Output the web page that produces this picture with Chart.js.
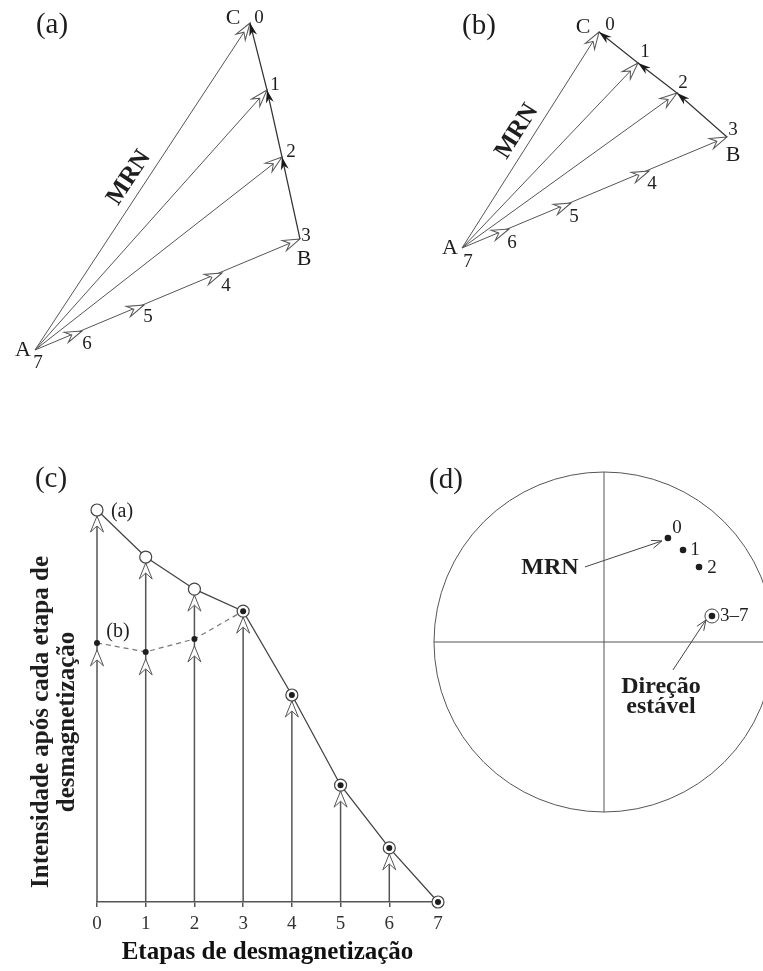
<!DOCTYPE html>
<html lang="pt-BR">

<head>
  <meta charset="UTF-8">
  <title>Desmagnetização progressiva</title>
  <script src="https://cdn.jsdelivr.net/npm/chart.js"></script>
  <style>
    body {
      margin: 0;
      background: #fff;
      width: 763px;
      height: 971px;
      position: relative;
      overflow: hidden;
    }

    canvas {
      position: absolute;
    }
  </style>
</head>

<body>
  <!-- (a) e (b): vetores -->
  <canvas id="graficoA" width="380" height="390" style="left:0;top:0"></canvas>
  <canvas id="graficoB" width="373" height="300" style="left:390px;top:0"></canvas>
  <!-- (c) intensidade, (d) estereograma -->
  <canvas id="graficoC" width="470" height="511" style="left:0;top:460px"></canvas>
  <canvas id="graficoD" width="363" height="400" style="left:400px;top:460px"></canvas>

  <script>
    // etapas de desmagnetização (a etapa 7 é a origem A)
    const etapas = [0, 1, 2, 3, 4, 5, 6, 7];
    const rotulosEtapas = ['0', '1', '2', '3', '4', '5', '6', '7'];

    // componentes dos vetores de magnetização, em unidades arbitrárias
    const vetorAx = [21.5, 23.2, 24.7, 26.5, 18.7, 10.9, 4.7, 0];
    const vetorAy = [32.7, 26.0, 19.3, 11.1, 7.7, 4.5, 1.9, 0];
    const vetorBx = [13.7, 17.6, 21.5, 26.5, 18.7, 10.9, 4.7, 0];
    const vetorBy = [21.6, 18.5, 15.5, 11.1, 7.7, 4.5, 1.9, 0];

    // (c) intensidade após cada etapa (0 a 100)
    const intensidadeA = [100, 88, 79.8, 74.2, 52.8, 29.8, 13.8, 0];
    const intensidadeB = [66.1, 63.8, 67.1, 74.2];
    const inicioEstavel = 3;
    const tituloY = ['Intensidade após cada etapa de', 'desmagnetização'];

    // (d) direções projetadas (círculo de raio 1)
    const direcaoX = [0.376, 0.465, 0.559, 0.635];
    const direcaoY = [0.612, 0.541, 0.441, 0.153];
    const rotulosDirecao = ['0', '1', '2', '3–7'];

    const serif = '"Liberation Serif", "DejaVu Serif", serif';

    function texto(ctx, s, x, y, fonte, alinh) {
      ctx.save();
      ctx.font = fonte;
      ctx.fillStyle = '#1e1e1e';
      ctx.textAlign = alinh || 'center';
      ctx.textBaseline = 'middle';
      ctx.fillText(s, x, y);
      ctx.restore();
    }

    // ponta de seta com entalhe, ponta em (x, y)
    function desenharSeta(ctx, x, y, ang, tam, aberta) {
      ctx.save();
      ctx.translate(x, y);
      ctx.rotate(ang);
      ctx.beginPath();
      ctx.moveTo(0, 0);
      ctx.lineTo(-tam.comp, -tam.larg);
      ctx.lineTo(-tam.comp + tam.entalhe, 0);
      ctx.lineTo(-tam.comp, tam.larg);
      ctx.closePath();
      if (aberta) {
        ctx.fillStyle = '#fff';
        ctx.fill();
        ctx.strokeStyle = '#555';
        ctx.lineWidth = 1;
        ctx.stroke();
      } else {
        ctx.fillStyle = '#1a1a1a';
        ctx.fill();
      }
      ctx.restore();
    }

    // seta de anotação (ponta em V aberta)
    function setaSimples(ctx, x0, y0, x1, y1) {
      const ang = Math.atan2(y1 - y0, x1 - x0);
      ctx.save();
      ctx.strokeStyle = '#444';
      ctx.lineWidth = 1;
      ctx.beginPath();
      ctx.moveTo(x0, y0);
      ctx.lineTo(x1, y1);
      ctx.moveTo(x1 - 11 * Math.cos(ang - 0.38), y1 - 11 * Math.sin(ang - 0.38));
      ctx.lineTo(x1, y1);
      ctx.lineTo(x1 - 11 * Math.cos(ang + 0.38), y1 - 11 * Math.sin(ang + 0.38));
      ctx.stroke();
      ctx.restore();
    }

    const semEixos = {
      responsive: false,
      devicePixelRatio: 1,
      animation: false,
      events: [],
      layout: { padding: 0, autoPadding: false },
      plugins: { legend: { display: false }, tooltip: { enabled: false } }
    };

    const setaAberta = { comp: 17, larg: 5.5, entalhe: 6 };
    const setaCheia = { comp: 13, larg: 4, entalhe: 4 };

    // (a) e (b)
    function graficoVetores(id, vx, vy, cfg) {
      const canvas = document.getElementById(id);
      const escala = 10;
      const pontos = etapas.map((e, i) => ({ x: vx[i], y: vy[i] }));
      const origem = pontos[7];
      const datasets = [0, 1, 2, 3].map(i => ({
        data: [origem, pontos[i]],
        showLine: true, borderColor: '#555', borderWidth: 1, pointRadius: 0
      }));
      datasets.push({
        data: [pontos[3], pontos[2], pontos[1], pontos[0]],
        showLine: true, borderColor: '#333', borderWidth: 1.2, pointRadius: 0
      });

      new Chart(canvas, {
        type: 'scatter',
        data: { datasets: datasets },
        options: Object.assign({}, semEixos, {
          scales: {
            x: { display: false, min: -cfg.ax / escala, max: (canvas.width - cfg.ax) / escala },
            y: { display: false, min: -(canvas.height - cfg.ay) / escala, max: cfg.ay / escala }
          }
        }),
        plugins: [{
          id: 'vetores',
          afterDatasetsDraw(chart) {
            const ctx = chart.ctx, sx = chart.scales.x, sy = chart.scales.y;
            const px = i => sx.getPixelForValue(vx[i]);
            const py = i => sy.getPixelForValue(vy[i]);
            const ax = px(7), ay = py(7);

            for (let i = 0; i < 7; i++) {
              desenharSeta(ctx, px(i), py(i), Math.atan2(py(i) - ay, px(i) - ax), setaAberta, true);
            }
            for (let i = 2; i >= 0; i--) {
              desenharSeta(ctx, px(i), py(i), Math.atan2(py(i) - py(i + 1), px(i) - px(i + 1)), setaCheia, false);
            }

            etapas.forEach((e, i) => {
              const d = cfg.digitos[i];
              texto(ctx, rotulosEtapas[i], px(i) + d[0], py(i) + d[1], '19px ' + serif);
            });
            texto(ctx, 'C', px(0) + cfg.letraC[0], py(0) + cfg.letraC[1], '22px ' + serif);
            texto(ctx, 'B', px(3) + cfg.letraB[0], py(3) + cfg.letraB[1], '22px ' + serif);
            texto(ctx, 'A', ax + cfg.letraA[0], ay + cfg.letraA[1], '22px ' + serif);

            // MRN ao longo do vetor inicial
            const ang = Math.atan2(py(0) - ay, px(0) - ax);
            const mx = (ax + px(0)) / 2 + 16 * Math.sin(ang);
            const my = (ay + py(0)) / 2 - 16 * Math.cos(ang);
            ctx.save();
            ctx.translate(mx, my);
            ctx.rotate(ang);
            texto(ctx, 'MRN', 0, 0, 'bold 25px ' + serif);
            ctx.restore();

            texto(ctx, cfg.painel, cfg.painelPos[0], cfg.painelPos[1], '29px ' + serif);
          }
        }]
      });
    }

    graficoVetores('graficoA', vetorAx, vetorAy, {
      ax: 35, ay: 350,
      digitos: [[9, -5], [8, -5], [9, -5], [6, -3], [4, 13], [4, 12], [5, 13], [3, 13]],
      letraC: [-17, -5], letraB: [4, 20], letraA: [-12, 0],
      painel: '(a)', painelPos: [52, 25]
    });

    graficoVetores('graficoB', vetorBx, vetorBy, {
      ax: 72, ay: 248,
      digitos: [[11, -7], [7, -11], [6, -10], [6, -7], [3, 13], [3, 14], [3, 14], [6, 14]],
      letraC: [-16, -5], letraB: [6, 18], letraA: [-12, 0],
      painel: '(b)', painelPos: [89, 26]
    });

    // (c) intensidade
    new Chart(document.getElementById('graficoC'), {
      type: 'scatter',
      data: {
        datasets: [
          {
            data: etapas.filter(e => e >= inicioEstavel).map(e => ({ x: e, y: intensidadeA[e] })),
            pointRadius: 3, pointBackgroundColor: '#1e1e1e', pointBorderColor: '#1e1e1e', pointBorderWidth: 0,
            showLine: false, clip: false
          },
          {
            data: etapas.map((e, i) => ({ x: e, y: intensidadeA[i] })),
            showLine: true, borderColor: '#444', borderWidth: 1.3,
            pointRadius: 6, pointBackgroundColor: '#fff', pointBorderColor: '#444', pointBorderWidth: 1.2,
            clip: false
          },
          {
            data: intensidadeB.map((v, i) => ({ x: etapas[i], y: v })),
            showLine: true, borderColor: '#777', borderWidth: 1.2, borderDash: [5, 4],
            pointRadius: 3, pointBackgroundColor: '#1e1e1e', pointBorderColor: '#1e1e1e', pointBorderWidth: 0,
            clip: false
          }
        ]
      },
      options: Object.assign({}, semEixos, {
        layout: { padding: { left: 97, right: 32, top: 50, bottom: 0 }, autoPadding: false },
        scales: {
          x: {
            min: 0, max: 7,
            afterFit: s => { s.height = 69; },
            border: { display: true, color: '#555', width: 1.5 },
            grid: { display: true, drawOnChartArea: false, drawTicks: true, tickLength: 5, color: '#555', lineWidth: 1.5 },
            ticks: { stepSize: 1, padding: 6, color: '#333', font: { family: serif, size: 19 } },
            title: {
              display: true, text: 'Etapas de desmagnetização', color: '#111',
              padding: { top: 0, bottom: 3 },
              font: { family: serif, size: 25, weight: 'bold', lineHeight: 1.2 }
            }
          },
          y: { display: false, min: 0, max: 100 }
        }
      }),
      plugins: [{
        id: 'hastes',
        beforeDatasetsDraw(chart) {
          const ctx = chart.ctx, sx = chart.scales.x, sy = chart.scales.y;
          const base = sy.getPixelForValue(0);
          const hastes = { comp: 16, larg: 6.5, entalhe: 6 };
          ctx.save();
          ctx.strokeStyle = '#555';
          ctx.lineWidth = 1.5;
          etapas.forEach((e, i) => {
            if (intensidadeA[i] <= 0) return;
            const x = sx.getPixelForValue(e);
            ctx.beginPath();
            ctx.moveTo(x, base);
            ctx.lineTo(x, sy.getPixelForValue(intensidadeA[i]));
            ctx.stroke();
          });
          ctx.restore();
          etapas.forEach((e, i) => {
            if (intensidadeA[i] <= 0) return;
            desenharSeta(ctx, sx.getPixelForValue(e), sy.getPixelForValue(intensidadeA[i]) + 6, -Math.PI / 2, hastes, true);
          });
          intensidadeB.forEach((v, i) => {
            if (v === intensidadeA[i]) return;
            desenharSeta(ctx, sx.getPixelForValue(etapas[i]), sy.getPixelForValue(v) + 7, -Math.PI / 2, hastes, true);
          });
        },
        afterDatasetsDraw(chart) {
          const ctx = chart.ctx, sx = chart.scales.x, sy = chart.scales.y;
          const x0 = sx.getPixelForValue(etapas[0]);
          texto(ctx, '(a)', x0 + 25, sy.getPixelForValue(intensidadeA[0]) + 2, '20px ' + serif);
          texto(ctx, '(b)', x0 + 21, sy.getPixelForValue(intensidadeB[0]) - 11, '20px ' + serif);
          texto(ctx, '(c)', 51, 19, '29px ' + serif);

          // título do eixo vertical
          ctx.save();
          ctx.translate(42, 262);
          ctx.rotate(-Math.PI / 2);
          tituloY.forEach((linha, i) => {
            texto(ctx, linha, 0, i * 26, 'bold 25px ' + serif);
          });
          ctx.restore();
        }
      }]
    });

    // (d) estereograma
    (function () {
      const canvas = document.getElementById('graficoD');
      const raio = 170, cx = 204, cy = 182;
      const fixo = direcaoX.length - 1;
      const pontos = direcaoX.map((x, i) => ({ x: x, y: direcaoY[i] }));

      new Chart(canvas, {
        type: 'scatter',
        data: {
          datasets: [
            {
              data: pontos,
              pointRadius: 3.3, pointBackgroundColor: '#1e1e1e', pointBorderColor: '#1e1e1e', pointBorderWidth: 0
            },
            {
              data: [pontos[fixo]],
              pointRadius: 7, pointBackgroundColor: '#fff', pointBorderColor: '#444', pointBorderWidth: 1
            }
          ]
        },
        options: Object.assign({}, semEixos, {
          scales: {
            x: { display: false, min: -cx / raio, max: (canvas.width - cx) / raio },
            y: { display: false, min: -(canvas.height - cy) / raio, max: cy / raio }
          }
        }),
        plugins: [{
          id: 'rede',
          beforeDatasetsDraw(chart) {
            const ctx = chart.ctx, sx = chart.scales.x, sy = chart.scales.y;
            const ox = sx.getPixelForValue(0), oy = sy.getPixelForValue(0);
            const r = sx.getPixelForValue(1) - ox;
            ctx.save();
            ctx.strokeStyle = '#555';
            ctx.lineWidth = 1;
            ctx.beginPath();
            ctx.arc(ox, oy, r, 0, Math.PI * 2);
            ctx.moveTo(sx.getPixelForValue(-1), oy);
            ctx.lineTo(sx.getPixelForValue(1), oy);
            ctx.moveTo(ox, sy.getPixelForValue(1));
            ctx.lineTo(ox, sy.getPixelForValue(-1));
            ctx.stroke();
            ctx.restore();
          },
          afterDatasetsDraw(chart) {
            const ctx = chart.ctx, sx = chart.scales.x, sy = chart.scales.y;
            const px = i => sx.getPixelForValue(direcaoX[i]);
            const py = i => sy.getPixelForValue(direcaoY[i]);
            const desloc = [[9, -10], [12, 0], [13, 1]];
            rotulosDirecao.forEach((s, i) => {
              if (i === fixo) texto(ctx, s, px(i) + 8, py(i), '19px ' + serif, 'left');
              else texto(ctx, s, px(i) + desloc[i][0], py(i) + desloc[i][1], '19px ' + serif);
            });

            // MRN -> direção inicial
            texto(ctx, 'MRN', px(0) - 118, py(0) + 30, 'bold 24px ' + serif);
            setaSimples(ctx, px(0) - 83, py(0) + 29, px(0) - 6, py(0) + 3);

            // direção estável
            setaSimples(ctx, px(fixo) - 39, py(fixo) + 54, px(fixo) - 6, py(fixo) + 4);
            texto(ctx, 'Direção', px(fixo) - 51, py(fixo) + 71, 'bold 24px ' + serif);
            texto(ctx, 'estável', px(fixo) - 51, py(fixo) + 91, 'bold 24px ' + serif);

            texto(ctx, '(d)', 46, 20, '29px ' + serif);
          }
        }]
      });
    })();
  </script>
</body>

</html>
